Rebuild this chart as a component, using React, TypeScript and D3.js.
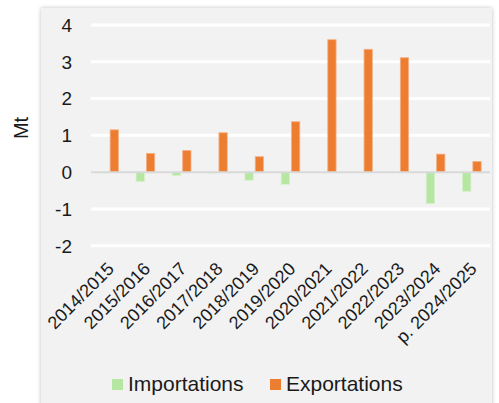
import React from "react";
import * as d3 from "d3";

const categories = ["2014/2015","2015/2016","2016/2017","2017/2018","2018/2019","2019/2020","2020/2021","2021/2022","2022/2023","2023/2024","p. 2024/2025"];
const importations = [-0.01,-0.25,-0.09,-0.01,-0.22,-0.33,0,0,0,-0.85,-0.52];
const exportations = [1.15,0.51,0.59,1.07,0.42,1.37,3.6,3.34,3.11,0.49,0.29];
const yTicks = [-2,-1,0,1,2,3,4];
const seriesNames = ["Importations","Exportations"];
const seriesColors = ["#b5e6a2","#ed7d31"];
const seriesStrokes = ["#d3f0c8","#f4b183"];

export default function App() {
  const W = 499, H = 403;
  const x0 = 91, x1 = 490;
  const y = d3.scaleLinear().domain([-2, 4]).range([245.7, 25]);
  const x = d3.scaleBand().domain(categories).range([x0, x1]).paddingInner(0).paddingOuter(0);
  const bw = 8.3, gap = 2;
  const font = "Liberation Sans, Arial, sans-serif";
  const series = [importations, exportations];
  return (
    <svg width={W} height={H} style={{position:"absolute", left:0, top:0}} fontFamily={font}>
      <defs>
        <filter id="sh" x="-5%" y="-5%" width="110%" height="110%">
          <feGaussianBlur in="SourceAlpha" stdDeviation="2" />
          <feOffset dx="0" dy="0" />
          <feComponentTransfer><feFuncA type="linear" slope="0.25" /></feComponentTransfer>
          <feMerge><feMergeNode /><feMergeNode in="SourceGraphic" /></feMerge>
        </filter>
      </defs>
      <rect x={0} y={0} width={W} height={H} fill="#ffffff" />
      <rect x={41} y={8} width={451} height={420} fill="#f2f2f2" filter="url(#sh)" />
      {yTicks.map(t => (
        <g key={t}>
          {t !== 0 && <line x1={x0} x2={x1} y1={y(t)} y2={y(t)} stroke="#ffffff" strokeWidth={3} />}
          <text x={72} y={y(t)} dy="0.36em" textAnchor="end" fontSize={19} fill="#1a1a1a">{t}</text>
        </g>
      ))}
      {categories.map((c, i) => {
        const cx = (x(c) as number) + x.bandwidth() / 2;
        return series.map((s, k) => {
          const v = s[i];
          if (v === 0) return null;
          const bx = k === 0 ? cx - gap / 2 - bw : cx + gap / 2;
          const top = Math.min(y(v), y(0));
          const h = Math.abs(y(v) - y(0));
          return <rect key={c + k} x={bx} y={top} width={bw} height={Math.max(h, 0.8)} fill={seriesColors[k]} stroke={seriesStrokes[k]} strokeWidth={0.8} />;
        });
      })}
      <line x1={x0} x2={x1} y1={y(0)} y2={y(0)} stroke="#d9d9d9" strokeWidth={2} />
      <text transform={`translate(28,${y(1.2)}) rotate(-90)`} textAnchor="middle" fontSize={20} fill="#1a1a1a">Mt</text>
      {categories.map(c => {
        const cx = (x(c) as number) + x.bandwidth() / 2;
        return (
          <text key={c} transform={`translate(${cx + 6},${270}) rotate(-45)`} textAnchor="end" fontSize={18} fill="#1a1a1a">{c}</text>
        );
      })}
      {seriesNames.map((n, k) => {
        const lx = k === 0 ? 112 : 270;
        return (
          <g key={n}>
            <rect x={lx} y={379} width={11} height={11} fill={seriesColors[k]} />
            <text x={lx + 16} y={391} fontSize={21} fill="#1a1a1a">{n}</text>
          </g>
        );
      })}
    </svg>
  );
}
